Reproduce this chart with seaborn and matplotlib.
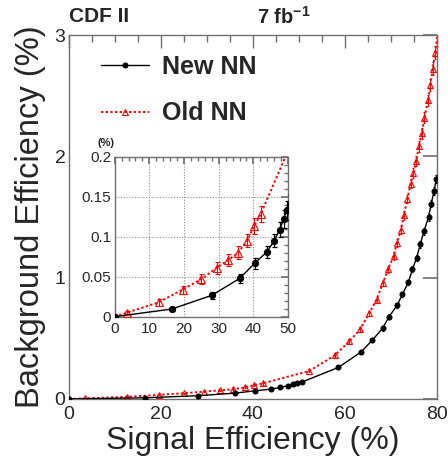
import matplotlib
matplotlib.use('Agg')
import matplotlib.pyplot as plt
import numpy as np
import pandas as pd
import seaborn as sns
from matplotlib.ticker import MultipleLocator

# -- Data (signal eff %, background eff %) ----------------------------------
new_sig = [0, 16.5, 28.0, 36.1, 40.4, 43.9, 46.0, 47.6, 48.7, 49.6, 50.7,
           58.6, 63.5, 66.0, 68.2, 69.6, 71.4, 72.5, 73.8, 74.7, 75.6,
           76.4, 77.2, 78.2, 78.8, 79.4, 79.9]
new_bkg = [0, 0.0096, 0.0267, 0.048, 0.067, 0.081, 0.095, 0.109, 0.122, 0.133, 0.140,
           0.26, 0.387, 0.486, 0.582, 0.678, 0.774, 0.862, 0.961, 1.068, 1.164,
           1.274, 1.383, 1.499, 1.611, 1.716, 1.817]
new_err = [0, 0.003, 0.004, 0.006, 0.007, 0.008, 0.008, 0.009, 0.011, 0.012, 0.012,
           0.012, 0.015, 0.017, 0.019, 0.02, 0.021, 0.022, 0.024, 0.025, 0.026,
           0.027, 0.028, 0.03, 0.031, 0.032, 0.034]

old_sig = [0, 3.5, 12.7, 19.6, 25.0, 29.4, 32.8, 35.6, 38.2, 40.2, 42.1,
           52.3, 57.8, 61.0, 63.3, 65.3, 66.9, 68.3, 69.4, 70.6, 71.3,
           72.2, 72.8, 73.6, 74.3, 74.9, 75.5, 76.1, 76.7, 77.3, 78.1,
           78.6, 79.1, 79.6, 80.4]
old_bkg = [0, 0.005, 0.018, 0.034, 0.047, 0.061, 0.071, 0.080, 0.095, 0.113, 0.128,
           0.231, 0.36, 0.475, 0.574, 0.706, 0.82, 0.958, 1.07, 1.178, 1.287,
           1.392, 1.513, 1.65, 1.776, 1.864, 1.963, 2.083, 2.193, 2.32, 2.462,
           2.589, 2.723, 2.855, 3.06]
old_err = [0, 0.002, 0.004, 0.005, 0.006, 0.007, 0.007, 0.008, 0.008, 0.010, 0.010,
           0.012, 0.015, 0.018, 0.02, 0.022, 0.024, 0.026, 0.028, 0.03, 0.031,
           0.032, 0.034, 0.036, 0.038, 0.04, 0.041, 0.043, 0.045, 0.046, 0.048,
           0.05, 0.052, 0.054, 0.056]

sns.set_theme(style='white')
plt.rcParams['font.family'] = ['Liberation Sans', 'DejaVu Sans']
plt.rcParams['mathtext.fontset'] = 'custom'
plt.rcParams['mathtext.rm'] = 'Liberation Sans'
plt.rcParams['mathtext.bf'] = 'Liberation Sans:bold'

df_new = pd.DataFrame({'sig': new_sig, 'bkg': new_bkg, 'err': new_err})
df_old = pd.DataFrame({'sig': old_sig, 'bkg': old_bkg, 'err': old_err})

SPINE = '#707070'


def draw_curves(ax, ms_new, ms_old, capsize, legend):
    ax.errorbar(df_old['sig'], df_old['bkg'], yerr=df_old['err'], fmt='none',
                ecolor='red', elinewidth=0.8, capsize=capsize, capthick=0.8, zorder=2)
    sns.lineplot(data=df_old, x='sig', y='bkg', ax=ax, color='red', linestyle=(0, (1.2, 1.2)),
                 linewidth=1.4, marker='^', markersize=ms_old, markerfacecolor='none',
                 markeredgecolor='red', markeredgewidth=0.8, sort=False,
                 label='Old NN' if legend else None, zorder=3)
    ax.errorbar(df_new['sig'], df_new['bkg'], yerr=df_new['err'], fmt='none',
                ecolor='black', elinewidth=0.9, capsize=capsize, capthick=0.9, zorder=4)
    sns.lineplot(data=df_new, x='sig', y='bkg', ax=ax, color='black', linestyle='-',
                 linewidth=1.0, marker='o', markersize=ms_new, markerfacecolor='black',
                 markeredgecolor='black', sort=False,
                 label='New NN' if legend else None, zorder=5)


def style_spines(ax):
    for s in ax.spines.values():
        s.set_color(SPINE)
        s.set_linewidth(1.0)


fig = plt.figure(figsize=(4.48, 4.57), dpi=100)
ax = fig.add_axes([0.154, 0.127, 0.821, 0.796])
draw_curves(ax, 3.6, 4.5, 1.0, True)
ax.set_xlim(0, 80)
ax.set_ylim(0, 3)
ax.xaxis.set_major_locator(MultipleLocator(20))
ax.xaxis.set_minor_locator(MultipleLocator(5))
ax.yaxis.set_major_locator(MultipleLocator(1))
ax.tick_params(axis='both', which='both', direction='in', top=True, right=True,
               color=SPINE, labelsize=14)
ax.tick_params(axis='x', which='major', length=9, width=1, pad=5)
ax.tick_params(axis='x', which='minor', length=5, width=1)
ax.tick_params(axis='y', which='major', length=10, width=1.2, pad=2.5)
style_spines(ax)
ax.set_xlabel('Signal Efficiency (%)', fontsize=23, labelpad=2)
ax.set_ylabel('Background Efficiency (%)', fontsize=23.5, labelpad=6.5)

handles, labels = ax.get_legend_handles_labels()
order = [labels.index('New NN'), labels.index('Old NN')]
ax.legend([handles[i] for i in order], [labels[i] for i in order],
          loc='upper left', bbox_to_anchor=(0.025, 1.008), frameon=False,
          prop={'weight': 'bold', 'size': 18}, handlelength=1.95,
          handletextpad=0.5, labelspacing=0.9, markerscale=1.0)

fig.text(69 / 448, 1 - 17 / 457, 'CDF II', fontsize=15, fontweight='bold',
         ha='left', va='center')
fig.text(257 / 448, 1 - 17 / 457, r'7 fb$^{\mathbf{-1}}$', fontsize=14.5,
         fontweight='bold', ha='left', va='center')

# -- Inset --------------------------------------------------------------------
axin = fig.add_axes([0.256, 0.307, 0.387, 0.350])
draw_curves(axin, 4.5, 5.5, 1.8, False)
axin.set_xlim(0, 50)
axin.set_ylim(0, 0.2)
axin.xaxis.set_major_locator(MultipleLocator(10))
axin.xaxis.set_minor_locator(MultipleLocator(2))
axin.yaxis.set_minor_locator(MultipleLocator(0.01))
axin.set_yticks([0, 0.05, 0.1, 0.15, 0.2])
axin.set_yticklabels(['0', '0.05', '0.1', '0.15', '0.2'])
axin.tick_params(axis='both', which='both', direction='in', top=True, right=True,
                 color=SPINE, labelsize=11, pad=2.5)
axin.tick_params(axis='x', which='major', pad=4)
axin.tick_params(which='major', length=5)
axin.tick_params(which='minor', length=3)
axin.grid(True, which='major', linestyle=(0, (1, 1.5)), color='#909090', linewidth=0.8)
style_spines(axin)
axin.set_xlabel('')
axin.set_ylabel('')
fig.text(97 / 448, 1 - 143 / 457, '(%)', fontsize=8, fontweight='bold',
         ha='left', va='center')

fig.savefig('out.png', dpi=100)
